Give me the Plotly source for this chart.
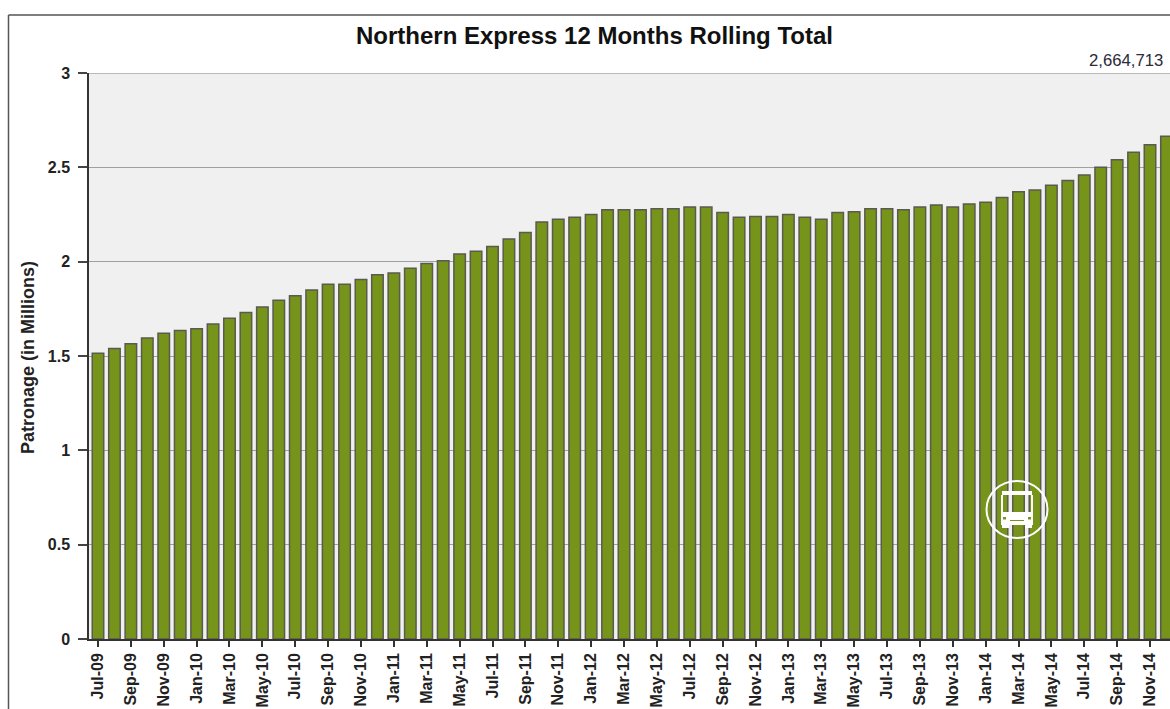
import plotly.graph_objects as go

FONT = "Liberation Sans"
TITLE = "Northern Express 12 Months Rolling Total"
Y_TITLE = "Patronage (in Millions)"
LAST_LABEL = "2,664,713"

months = ["Jul-09","Aug-09","Sep-09","Oct-09","Nov-09","Dec-09",
 "Jan-10","Feb-10","Mar-10","Apr-10","May-10","Jun-10","Jul-10","Aug-10","Sep-10","Oct-10","Nov-10","Dec-10",
 "Jan-11","Feb-11","Mar-11","Apr-11","May-11","Jun-11","Jul-11","Aug-11","Sep-11","Oct-11","Nov-11","Dec-11",
 "Jan-12","Feb-12","Mar-12","Apr-12","May-12","Jun-12","Jul-12","Aug-12","Sep-12","Oct-12","Nov-12","Dec-12",
 "Jan-13","Feb-13","Mar-13","Apr-13","May-13","Jun-13","Jul-13","Aug-13","Sep-13","Oct-13","Nov-13","Dec-13",
 "Jan-14","Feb-14","Mar-14","Apr-14","May-14","Jun-14","Jul-14","Aug-14","Sep-14","Oct-14","Nov-14","Dec-14"]
patronage = [1.515,1.54,1.565,1.595,1.62,1.635,
 1.645,1.67,1.70,1.73,1.76,1.795,1.82,1.85,1.88,1.88,1.905,1.93,
 1.94,1.965,1.99,2.005,2.04,2.055,2.08,2.12,2.155,2.21,2.225,2.235,
 2.25,2.275,2.275,2.275,2.28,2.28,2.29,2.29,2.26,2.235,2.24,2.24,
 2.25,2.235,2.225,2.26,2.265,2.28,2.28,2.275,2.29,2.30,2.29,2.305,
 2.315,2.34,2.37,2.38,2.405,2.43,2.46,2.50,2.54,2.58,2.62,2.665]
tick_labels = months[::2]
y_ticks = [0, 0.5, 1, 1.5, 2, 2.5, 3]
y_tick_text = ["0", "0.5", "1", "1.5", "2", "2.5", "3"]

W, H = 1170, 709
L, T, B = 89, 73, 70
PW, PH = W - L, H - T - B

def px(x):
    return (x - L) / PW
def py(y):
    return (H - B - y) / PH

def rect_path(x0, y0, x1, y1):
    return f"M{px(x0)},{py(y0)} L{px(x1)},{py(y0)} L{px(x1)},{py(y1)} L{px(x0)},{py(y1)} Z "

fig = go.Figure(go.Bar(
    x=list(range(len(months))), y=patronage,
    marker=dict(color="#76931a", line=dict(color="#5a5a50", width=1.5)),
    width=0.70, hoverinfo="skip",
))

white = "#ffffff"
green = "#76931a"
shapes = [
    # outer frame
    dict(type="line", xref="paper", yref="paper", x0=px(8.5), x1=px(W), y0=py(15), y1=py(15),
         line=dict(color="#555555", width=1.5)),
    dict(type="line", xref="paper", yref="paper", x0=px(8.5), x1=px(8.5), y0=py(15), y1=py(H),
         line=dict(color="#555555", width=1.5)),
    # top gridline of the plot area
    dict(type="line", xref="paper", yref="y", x0=0, x1=1, y0=3, y1=3, layer="above",
         line=dict(color="#a8a8a8", width=1.5)),
    # bus badge ring
    dict(type="circle", xref="paper", yref="paper", x0=px(986.5), x1=px(1047.5), y0=py(481), y1=py(538),
         line=dict(color=white, width=2)),
    # bus body: roof, pillars, lower panel, wheels
    dict(type="path", xref="paper", yref="paper", fillcolor=white, line=dict(width=0),
         path=rect_path(1002, 491, 1032, 495) + rect_path(1001, 495, 1003, 512)
              + rect_path(1031, 495, 1033, 512) + rect_path(1001, 512, 1033, 525)
              + rect_path(1002, 525, 1009, 528) + rect_path(1025, 525, 1032, 528)),
    # headlights and grille
    dict(type="path", xref="paper", yref="paper", fillcolor=green, line=dict(width=0),
         path=rect_path(1003, 517, 1006, 519.5) + rect_path(1028, 517, 1031, 519.5)
              + rect_path(1010, 520, 1024, 521)),
]

fig.update_layout(
    width=W, height=H, autosize=False,
    margin=dict(l=L, r=0, t=T, b=B, pad=0),
    paper_bgcolor="white", plot_bgcolor="#f0f0f0",
    showlegend=False,
    font=dict(family=FONT, color="#222222"),
    title=dict(text=f"<b>{TITLE}</b>", x=(357 + 832) / 2 / W, xanchor="center", y=1 - 36 / H, yanchor="middle",
               font=dict(size=24, color="#111111", family=FONT)),
    shapes=shapes,
    annotations=[
        dict(text=LAST_LABEL, xref="paper", yref="paper", x=px(1165), y=py(60), xanchor="right", yanchor="middle",
             showarrow=False, font=dict(size=16.7, color="#2a2a38", family=FONT)),
        dict(text=f"<b>{Y_TITLE}</b>", xref="paper", yref="paper", x=px(28), y=py(358), xanchor="center",
             yanchor="middle", textangle=-90, showarrow=False, font=dict(size=18, color="#222222", family=FONT)),
    ],
    xaxis=dict(
        range=[-0.547, 65.216], tickmode="array",
        tickvals=list(range(0, len(months), 2)),
        ticktext=[f"<b>{t}</b>" for t in tick_labels],
        tickangle=-90, ticks="outside", ticklen=6, tickwidth=1.5, tickcolor="#333333",
        tickfont=dict(size=16, color="#222222", family=FONT),
        showline=True, linecolor="#333333", linewidth=1.5, showgrid=False, zeroline=False, automargin=False,
        ticklabelstandoff=0,
    ),
    yaxis=dict(
        range=[0, 3], tickmode="array", tickvals=y_ticks,
        ticktext=[f"<b>{t}</b>" for t in y_tick_text],
        ticks="outside", ticklen=9, tickwidth=1.5, tickcolor="#444444",
        tickfont=dict(size=16, color="#222222", family=FONT),
        showline=True, linecolor="#333333", linewidth=1.5,
        showgrid=True, gridcolor="#a0a0a0", gridwidth=1, zeroline=False, automargin=False,
        ticklabelstandoff=5,
    ),
)

fig.write_html("out.html", config=dict(displayModeBar=False),
               post_script="document.body.style.margin='0';document.documentElement.style.overflow='hidden';")
